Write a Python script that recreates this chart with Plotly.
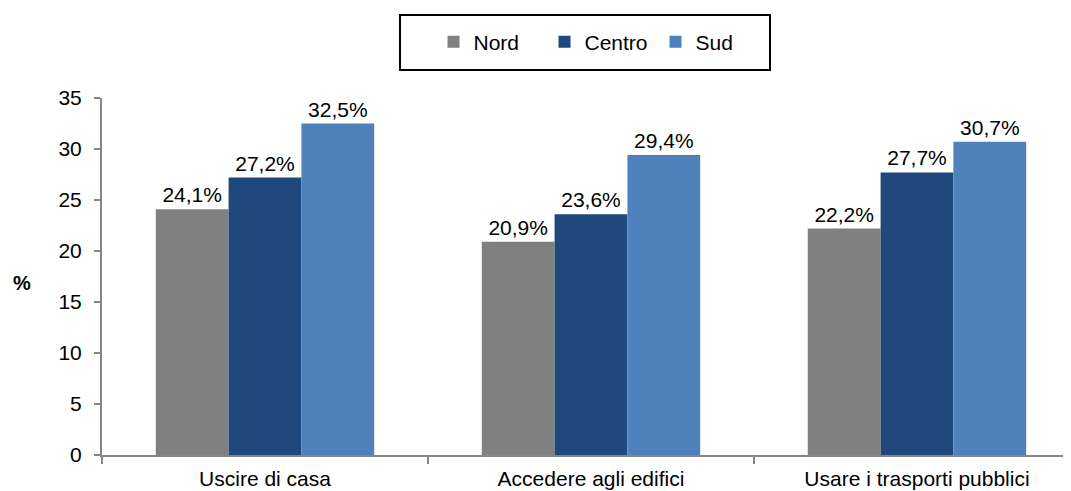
import plotly.graph_objects as go

categories = ["Uscire di casa", "Accedere agli edifici", "Usare i trasporti pubblici"]
nord = [24.1, 20.9, 22.2]
centro = [27.2, 23.6, 27.7]
sud = [32.5, 29.4, 30.7]
series_names = ["Nord", "Centro", "Sud"]
colors = ["#808080", "#1F497D", "#4F81BD"]
y_ticks = [0, 5, 10, 15, 20, 25, 30, 35]

FONT = "Liberation Sans, Arial, sans-serif"

# page body has an 8px margin; plot area placed accordingly
L, T, PW, PH = 94, 90, 977, 357

def px(wx):
    return (wx - 8 - L) / PW

def py(wy):
    return (T + PH - (wy - 8)) / PH

fig = go.Figure()
for name, vals, col in zip(series_names, [nord, centro, sud], colors):
    fig.add_trace(go.Bar(
        name=name, x=categories, y=vals, marker_color=col,
        marker_line_width=0,
        text=[f"{v:.1f}%".replace(".", ",") for v in vals],
        textposition="outside", textfont=dict(size=21, color="black", family=FONT),
        cliponaxis=False,
    ))

fig.update_layout(
    width=1071, height=491,
    margin=dict(l=L, r=0, t=T, b=491 - T - PH, autoexpand=False),
    paper_bgcolor="white", plot_bgcolor="white",
    barmode="group", bargap=0.33, bargroupgap=0,
    font=dict(family=FONT, size=21, color="black"),
    showlegend=True,
    legend=dict(orientation="h", x=px(600), xanchor="center", y=py(42), yanchor="middle",
                bgcolor="rgba(0,0,0,0)", borderwidth=0,
                font=dict(size=21, family=FONT, color="black"),
                entrywidth=66, entrywidthmode="pixels", traceorder="normal"),
    xaxis=dict(range=[-0.5, 2.497], showline=True, linecolor="#868686", linewidth=2,
               ticks="outside", tickson="boundaries", ticklen=7, tickcolor="#868686",
               tickwidth=2, showgrid=False, tickfont=dict(size=21), ticklabelstandoff=4),
    yaxis=dict(range=[0, 35], tickvals=y_ticks, showline=True, linecolor="#868686",
               linewidth=2, ticks="outside", ticklen=6, tickcolor="#868686", tickwidth=2,
               showgrid=False, zeroline=False, tickfont=dict(size=21), ticklabelstandoff=8),
    shapes=[dict(type="rect", xref="paper", yref="paper",
                 x0=px(400), x1=px(770), y0=py(70), y1=py(15),
                 line=dict(color="black", width=2), fillcolor="rgba(0,0,0,0)")],
    annotations=[dict(text="<b>%</b>", xref="paper", yref="paper",
                      x=px(22), y=py(283), showarrow=False,
                      font=dict(size=20, family=FONT), xanchor="center", yanchor="middle")],
)

fig.write_html("out.html")
